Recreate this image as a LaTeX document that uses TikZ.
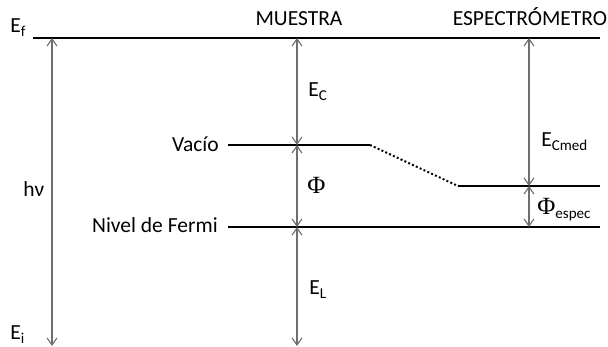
\documentclass[tikz,border=0pt]{standalone}
\usepackage{fontspec}
\setmainfont{Carlito}
\newfontfamily\phifont[Scale=1.15]{Liberation Serif}
\usetikzlibrary{arrows.meta}
\definecolor{arrgray}{RGB}{110,110,110}
\tikzset{
  lvl/.style={draw=black, line width=1.4pt},
  lvldot/.style={draw=black, line width=1.4pt, dash pattern=on 1.4pt off 1.6pt},
  arr/.style={{Straight Barb[length=5pt,width=7pt]}-{Straight Barb[length=5pt,width=7pt]},
              draw=arrgray, line width=0.8pt},
  lbl/.style={font=\fontsize{15.3}{17}\selectfont, inner sep=0pt},
}

\begin{document}
\begin{tikzpicture}[x=0.025cm, y=-0.025cm]
  \useasboundingbox (0,0) rectangle (608,347);

  % ─── Energy levels ─────────────────────────────────────────────────
  \coordinate (fL) at (33,38);
  \coordinate (fR) at (600,38);
  \coordinate (vacL) at (228,145);
  \coordinate (vacR) at (370,145);
  \coordinate (specL) at (458,186);
  \coordinate (specR) at (600,186);
  \coordinate (ferL) at (228,227);
  \coordinate (ferR) at (600,227);
  \draw[lvl] (fL) -- (fR);
  \draw[lvl] (vacL) -- (vacR);
  \draw[lvldot] (vacR) -- (specL);
  \draw[lvl] (specL) -- (specR);
  \draw[lvl] (ferL) -- (ferR);

  % ─── Vertical arrows ───────────────────────────────────────────────
  \coordinate (hTop) at (52,38);
  \coordinate (hBot) at (52,346);
  \draw[arr] (hTop) -- (hBot);

  \coordinate (mTop) at (297,38);
  \coordinate (mVac) at (297,145);
  \coordinate (mFer) at (297,227);
  \coordinate (mBot) at (297,346);
  \draw[arr] (mTop) -- (mVac);
  \draw[arr] (mVac) -- (mFer);
  \draw[arr] (mFer) -- (mBot);

  \coordinate (eTop) at (529,38);
  \coordinate (eVac) at (529,186);
  \coordinate (eFer) at (529,227);
  \draw[arr] (eTop) -- (eVac);
  \draw[arr] (eVac) -- (eFer);

  % ─── Labels ────────────────────────────────────────────────────────
  \node[lbl, anchor=base west] (ef) at (10,33) {E\textsubscript{f}};
  \node[lbl, anchor=base west] (ei) at (10,340) {E\textsubscript{i}};
  \node[lbl, anchor=base west] (hnu) at (23,197) {hν};
  \node[lbl, anchor=base] (muestra) at (299,26) {MUESTRA};
  \node[lbl, anchor=base] (espec) at (530,26) {ESPECTRÓMETRO};
  \node[lbl, anchor=base east] (vacio) at (219,152) {Vacío};
  \node[lbl, anchor=base east] (fermi) at (218,233) {Nivel de Fermi};
  \node[lbl, anchor=base west] (ec) at (308,97) {E\textsubscript{C}};
  \node[lbl, anchor=base west] (phi) at (307,194) {\phifont Φ};
  \node[lbl, anchor=base west] (el) at (309,295) {E\textsubscript{L}};
  \node[lbl, anchor=base west] (ecmed) at (541,147) {E\textsubscript{Cmed}};
  \node[lbl, anchor=base west] (phiesp) at (537,215) {{\phifont Φ}\textsubscript{espec}};

\end{tikzpicture}
\end{document}
